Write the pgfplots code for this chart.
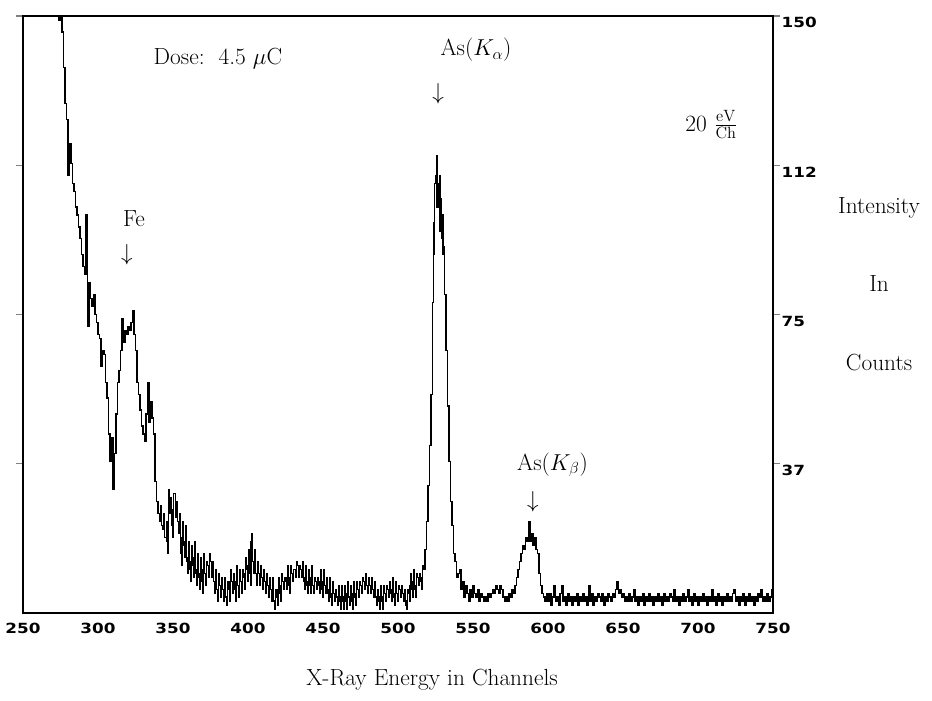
\documentclass[border=0pt]{standalone}
\usepackage{pgfplots}
\pgfplotsset{compat=1.18}
\usepackage{fontspec}
\newfontfamily\tickfont[FakeStretch=1.2]{DejaVu Sans}
\newcommand{\lbl}{\fontsize{17.5}{20}\selectfont\addfontfeatures{LetterSpace=5}}
\begin{document}
\begin{tikzpicture}
\begin{axis}[
  scale only axis,
  width=562.5pt, height=447.75pt,
  xmin=250, xmax=750, ymin=0, ymax=150,
  clip mode=individual,
  axis line style={line width=0.8pt},
  xtick={250,300,350,400,450,500,550,600,650,700,750},
  xticklabels={250,300,350,400,450,500,550,600,650,700,750},
  xtick style={draw=none},
  xticklabel style={font=\tickfont\bfseries\fontsize{10.5}{12}\selectfont, yshift=1pt},
  ytick={37.5,75,112.5,150},
  yticklabels={37,75,112,150},
  ytick pos=both,
  yticklabel pos=right,
  tick align=outside,
  major tick length=5pt,
  ytick style={line width=0.8pt},
  yticklabel style={font=\tickfont\bfseries\fontsize{10.5}{12}\selectfont, anchor=west, yshift=-5pt, xshift=-2pt},
]
\addplot[black, line width=0.9pt, const plot] coordinates {
(273.5,150)(274,149)(275,150)(276,146)(277,137)(278,128)(279,124)(280,110)(281,118)(282,113)(283,108)(284,106)(285,102)(286,100)(287,97)(288,94)(289,90)(290,87)(291,85)(292,100)(293,72)(294,83)(295,79)(296,77)(297,80)(298,75)(299,73)(300,70)(301,69)(302,62)(303,66)(304,65)(305,58)(306,54)(307,45)(308,38)(309,44)(310,31)(311,40)(312,50)(313,58)(314,61)(315,66)(316,74)(317,68)(318,71)(319,70)(320,72)(321,71)(322,73)(323,76)(324,70)(325,66)(326,58)(327,55)(328,51)(329,47)(330,45)(331,43)(332,50)(333,58)(334,48)(335,53)(336,49)(337,45)(338,33)(339,28)(340,25)
(341,23)(341.5,27)(342,25)(342.5,22)(343,21)(343.5,25)(344,22)(344.5,19)(345,19)(345.5,23)(346,18)(346.5,15)(347,31)(347.5,28)(348,25)(348.5,29)(349,22)(349.5,19)(350,26)(350.5,30)(351,30)(351.5,27)(352,24)(352.5,28)(353,23)(353.5,20)(354,21)(354.5,25)(355,15)(355.5,12)(356,19)(356.5,23)(357,17)(357.5,14)(358,18)(358.5,22)(359,13)(359.5,10)(360,14)(360.5,18)
(361,11)(361.5,8)(362,13)(362.5,17)(363,12)(363.5,9)(364,14)(364.5,18)(365,10)(365.5,7)(366,11)(366.5,15)(367,9)(367.5,6)(368,10)(368.5,14)(369,8)(369.5,5)(370,11)(370.5,15)(371,10)(371.5,7)(372,9)(372.5,13)(373,12)(373.5,9)(374,11)(374.5,15)(375,13)(375.5,10)(376,9)(376.5,13)(377,8)(377.5,5)(378,7)(378.5,11)(379,6)(379.5,3)(380,6)(380.5,10)
(381,7)(381.5,4)(382,5)(382.5,9)(383,6)(383.5,3)(384,5)(384.5,9)(385,4)(385.5,2)(386,4)(386.5,8)(387,6)(387.5,3)(388,8)(388.5,11)(389,8)(389.5,5)(390,7)(390.5,10)(391,6)(391.5,3)(392,8)(392.5,12)(393,7)(393.5,4)(394,7)(394.5,11)(395,8)(395.5,5)(396,7)(396.5,11)(397,9)(397.5,6)(398,10)(398.5,14)(399,11)(399.5,8)(400,12)(400.5,16)
(401,10)(401.5,7)(402,18)(402.5,20)(403,13)(403.5,10)(404,12)(404.5,16)(405,10)(405.5,7)(406,9)(406.5,13)(407,10)(407.5,7)(408,8)(408.5,12)(409,9)(409.5,6)(410,7)(410.5,11)(411,8)(411.5,5)(412,6)(412.5,10)(413,7)(413.5,4)(414,5)(414.5,9)(415,6)(415.5,3)(416,5)(416.5,9)(417,3)(417.5,1)(418,2)(418.5,6)(419,4)(419.5,2)(420,6)(420.5,9)
(421,5)(421.5,3)(422,7)(422.5,10)(423,8)(423.5,6)(424,6)(424.5,9)(425,8)(425.5,6)(426,9)(426.5,12)(427,7)(427.5,5)(428,9)(428.5,12)(429,10)(429.5,8)(430,8)(430.5,11)(431,11)(431.5,9)(432,10)(432.5,13)(433,12)(433.5,10)(434,9)(434.5,12)(435,11)(435.5,9)(436,10)(436.5,13)(437,8)(437.5,6)(438,9)(438.5,12)(439,7)(439.5,5)(440,8)(440.5,11)
(441,7)(441.5,5)(442,9)(442.5,12)(443,7)(443.5,5)(444,6)(444.5,9)(445,8)(445.5,6)(446,6)(446.5,9)(447,7)(447.5,5)(448,8)(448.5,11)(449,6)(449.5,4)(450,8)(450.5,11)(451,7)(451.5,5)(452,6)(452.5,9)(453,5)(453.5,3)(454,6)(454.5,9)(455,4)(455.5,2)(456,5)(456.5,8)(457,5)(457.5,3)(458,3)(458.5,6)(459,4)(459.5,2)(460,4)(460.5,7)
(461,3)(461.5,1)(462,4)(462.5,7)(463,3)(463.5,1)(464,4)(464.5,7)(465,3)(465.5,1)(466,5)(466.5,8)(467,4)(467.5,2)(468,4)(468.5,7)(469,3)(469.5,1)(470,5)(470.5,8)(471,4)(471.5,2)(472,5)(472.5,8)(473,6)(473.5,4)(474,5)(474.5,8)(475,7)(475.5,5)(476,6)(476.5,9)(477,8)(477.5,6)(478,7)(478.5,10)(479,7)(479.5,5)(480,6)(480.5,9)
(481,7)(481.5,5)(482,6)(482.5,9)(483,6)(483.5,4)(484,5)(484.5,8)(485,4)(485.5,2)(486,3)(486.5,6)(487,3)(487.5,1)(488,4)(488.5,7)(489,3)(489.5,1)(490,4)(490.5,7)(491,5)(491.5,3)(492,4)(492.5,7)(493,6)(493.5,4)(494,5)(494.5,8)(495,5)(495.5,3)(496,6)(496.5,9)(497,4)(497.5,2)(498,5)(498.5,8)(499,5)(499.5,3)(500,4)(500.5,7)
(501,6)(501.5,4)(502,4)(502.5,7)(503,5)(503.5,3)(504,3)(504.5,6)(505,2)(505.5,1)(506,3)(506.5,6)(507,5)(507.5,3)(508,7)(508.5,10)(509,6)(509.5,4)(510,8)(510.5,11)(511,6)(511.5,4)(512,7)(512.5,10)(513,9)(513.5,7)(514,7)(514.5,10)(515,8)(515.5,6)(516,9)(516.5,12)(517,11)(518,16)(519,23)(520,32)(521,42)(522,55)(523,78)(523.5,90)(524,98)(524.5,108)(525,110)(525.5,102)(526,115)(526.5,108)(527,102)(527.5,96)(528,110)(528.5,104)(529,94)(529.5,90)(530,100)(530.5,92)(531,80)(532,66)(533,52)(534,38)(535,28)(536,22)(537,15)(538,13)(539,9)(540,10)
(541,11)(542,6)(543,8)(544,4)(545,7)(546,5)(547,3)(548,6)(549,4)(550,7)(551,5)(552,4)(553,6)(554,3)(555,5)(556,4)(557,3)(558,4)(559,3)(560,5)(561,4)(562,5)(563,6)(564,5)(565,7)(566,6)(567,5)(568,7)(569,6)(570,4)(571,3)(572,4)(573,3)(574,5)(575,4)(576,6)(577,5)(578,7)(579,9)(580,11)(581,13)(582,15)(583,17)(584,16)(585,19)(586,18)(587,23)(588,18)(589,20)(590,17)(591,19)(592,16)(593,15)(594,10)(595,7)(596,5)(597,4)(598,3)(599,5)
(600,3)(601,5)(602,2)(603,4)(604,7)(605,3)(606,4)(607,2)(608,5)(609,7)(610,3)(611,4)(612,2)(613,5)(614,3)(615,4)(616,2)(617,4)(618,3)(619,5)(620,2)(621,4)(622,3)(623,5)(624,3)(625,4)(626,2)(627,7)(628,3)(629,5)(630,2)(631,4)(632,3)(633,5)(634,4)(635,3)(636,5)(637,2)(638,4)(639,3)(640,5)(641,4)(642,3)(643,5)(644,4)(645,6)(646,8)(647,5)(648,6)(649,4)(650,5)
(651,3)(652,4)(653,3)(654,5)(655,3)(656,4)(657,6)(658,3)(659,4)(660,2)(661,4)(662,3)(663,5)(664,2)(665,4)(666,3)(667,5)(668,3)(669,4)(670,2)(671,4)(672,3)(673,5)(674,3)(675,4)(676,2)(677,5)(678,3)(679,4)(680,3)(681,5)(682,4)(683,3)(684,6)(685,3)(686,4)(687,2)(688,4)(689,3)(690,5)(691,3)(692,4)(693,6)(694,3)(695,4)(696,2)(697,5)(698,3)(699,4)(700,2)
(701,4)(702,3)(703,5)(704,3)(705,4)(706,2)(707,4)(708,3)(709,6)(710,3)(711,4)(712,2)(713,5)(714,3)(715,4)(716,2)(717,4)(718,3)(719,5)(720,3)(721,4)(722,3)(723,5)(724,6)(725,3)(726,4)(727,2)(728,4)(729,3)(730,5)(731,2)(732,4)(733,3)(734,5)(735,3)(736,4)(737,2)(738,4)(739,3)(740,5)(741,4)(742,6)(743,3)(744,4)(745,3)(746,5)(747,3)(748,4)(749,6)(750,4)
};
\draw[line width=2pt] (rel axis cs:0,0) -- (rel axis cs:1,0);
\draw[line width=1.8pt] (rel axis cs:0,1) -- (rel axis cs:1,1);
\node[font=\lbl, anchor=west] at (axis cs:334,139.4) {Dose:\ \ 4.5 $\mu$C};
\node[font=\lbl] at (axis cs:552,141.5) {As($K_\alpha$)};
\node[font=\lbl] at (axis cs:526.7,130.4) {$\downarrow$};
\node[font=\lbl] at (axis cs:324,99.2) {Fe};
\node[font=\lbl] at (axis cs:319.3,90) {$\downarrow$};
\node[font=\lbl] at (axis cs:603,37.2) {As($K_\beta$)};
\node[font=\lbl] at (axis cs:590,27.9) {$\downarrow$};
\node[font=\lbl] at (axis cs:709,122.6) {20 $\frac{\mathrm{eV}}{\mathrm{Ch}}$};
\node[font=\lbl] at (axis cs:820.7,101.8) {Intensity};
\node[font=\lbl] at (axis cs:820.7,82.9) {In};
\node[font=\lbl] at (axis cs:820.7,63) {Counts};
\node[font=\lbl] at (axis cs:522.7,-16.8) {X-Ray Energy in Channels};
\end{axis}
\path (current axis.south west) ++(-17.25pt,-65.25pt) coordinate (bl);
\path (current axis.north east) ++(119.25pt,12pt) coordinate (tr);
\path (bl) rectangle (tr);
\end{tikzpicture}
\end{document}
